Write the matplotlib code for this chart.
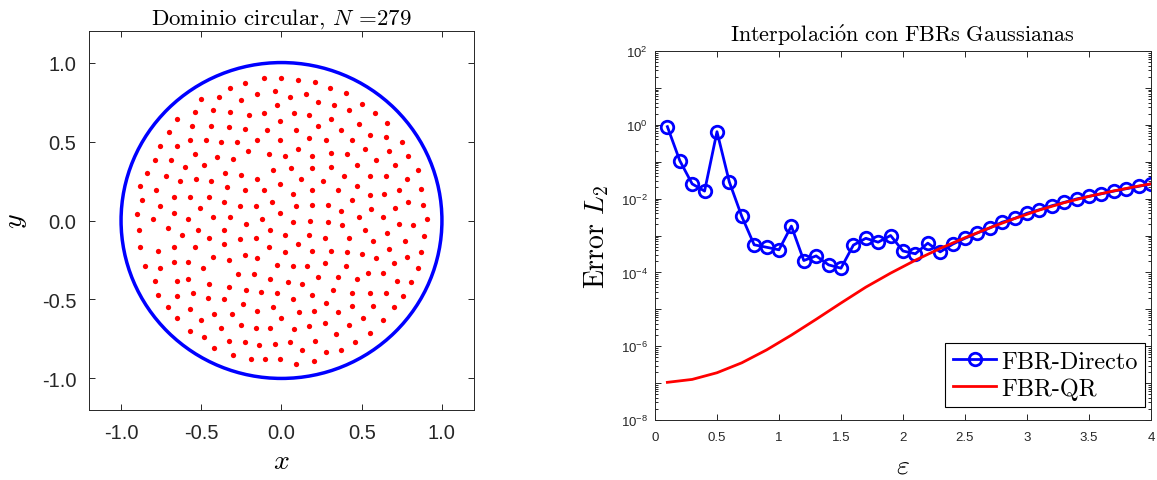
import math

import matplotlib
matplotlib.use("Agg")
import matplotlib.pyplot as plt
from matplotlib.patches import Circle
from matplotlib.ticker import FuncFormatter, LogLocator, NullFormatter

# nodes (x, y), row by row from top to bottom
node_x = [
    -0.11, 0.00, 0.10, 0.21,
    -0.23, 0.30, 0.40, -0.32, -0.04,
    -0.39, -0.50, -0.25, -0.15, 0.05, 0.15, 0.23, 0.33, 0.50, 0.42,
    -0.54, -0.43, -0.32, -0.20, -0.11, -0.03, 0.08, 0.17, 0.31, 0.58, 0.66, 0.48, 0.37,
    -0.65, -0.56, -0.44, -0.33, -0.23, -0.09, -0.01, 0.09, 0.23,
    -0.70, -0.76, -0.65, -0.57, -0.47, -0.38, -0.28, -0.15, -0.01, 0.10, 0.17, 0.28, 0.44, 0.55, 0.65, 0.75,
    -0.79, -0.69, -0.60, -0.54, -0.48, -0.40, -0.30, -0.21, -0.08, 0.02, 0.19, 0.31, 0.41, 0.52, 0.59, 0.67, 0.71, 0.79,
    -0.84, -0.72, -0.63, -0.53, -0.44, -0.35, -0.25, -0.15, -0.05, 0.06, 0.12, 0.19, 0.26, 0.31, 0.39, 0.47, 0.55, 0.65, 0.78, 0.85,
    -0.88, -0.78, -0.67, -0.57, -0.45, -0.34, -0.23, -0.11, -0.01, 0.07, 0.19, 0.35, 0.47, 0.55, 0.64, 0.73, 0.87,
    -0.87, -0.76, -0.67, -0.58, -0.51, -0.36, -0.26, -0.16, -0.06, -0.01, 0.09, 0.19, 0.29, 0.37, 0.44, 0.56, 0.71, 0.79, 0.88,
    -0.90, -0.80, -0.43, -0.32, -0.22, -0.12, 0.07, 0.18, 0.29, 0.48, 0.63, 0.73, 0.82, 0.91,
    -0.89, -0.71, -0.62, -0.52, -0.36, -0.26, -0.16, -0.07, 0.02, 0.17, 0.27, 0.38, 0.42, 0.52, 0.57, 0.66, 0.77, 0.89,
    -0.88, -0.77, -0.67, -0.54, -0.45, -0.36, -0.23, -0.15, -0.08, 0.02, 0.10, 0.19, 0.31, 0.41, 0.50, 0.59, 0.67, 0.78, 0.87,
    -0.85, -0.76, -0.67, -0.58, -0.49, -0.43, -0.33, -0.27, -0.17, -0.03, 0.07, 0.16, 0.27, 0.40, 0.54, 0.63, 0.70, 0.85,
    -0.79, -0.65, -0.58, -0.45, -0.33, -0.22, -0.07, 0.04, 0.13, 0.23, 0.35, 0.47, 0.72, 0.81,
    -0.77, -0.65, -0.55, -0.46, -0.36, -0.24, -0.13, -0.03, 0.07, 0.19, 0.32, 0.44, 0.55, 0.65, 0.76,
    -0.71, -0.57, -0.42, -0.31, -0.15, -0.05, 0.11, 0.20, 0.28, 0.35, 0.44, 0.57, 0.70,
    -0.65, -0.50, -0.38, -0.25, -0.16, -0.07, 0.00, 0.08, 0.17, 0.27, 0.42, 0.51, 0.63,
    -0.57, -0.48, -0.33, -0.23, -0.14, -0.04, 0.05, 0.13, 0.21, 0.34, 0.46, 0.55,
    -0.42, -0.30, -0.19, -0.10, -0.01, 0.09, 0.20, 0.28, 0.37,
]
node_y = [
    0.90, 0.90, 0.89, 0.88,
    0.87, 0.84, 0.81, 0.84, 0.82,
    0.78, 0.77, 0.76, 0.80, 0.78, 0.80, 0.75, 0.73, 0.74, 0.70,
    0.69, 0.70, 0.69, 0.67, 0.68, 0.73, 0.68, 0.67, 0.64, 0.68, 0.62, 0.61, 0.57,
    0.64, 0.60, 0.60, 0.59, 0.58, 0.57, 0.63, 0.57, 0.60,
    0.56, 0.47, 0.47, 0.51, 0.51, 0.50, 0.50, 0.51, 0.51, 0.45, 0.52, 0.51, 0.51, 0.54, 0.53, 0.50,
    0.38, 0.38, 0.34, 0.42, 0.35, 0.40, 0.39, 0.44, 0.42, 0.41, 0.41, 0.43, 0.42, 0.45, 0.38, 0.44, 0.35, 0.41,
    0.30, 0.28, 0.25, 0.26, 0.25, 0.30, 0.29, 0.26, 0.32, 0.33, 0.26, 0.33, 0.25, 0.34, 0.28, 0.35, 0.28, 0.28, 0.26, 0.32,
    0.22, 0.19, 0.15, 0.15, 0.15, 0.21, 0.19, 0.19, 0.23, 0.17, 0.19, 0.19, 0.22, 0.16, 0.17, 0.19, 0.20,
    0.13, 0.09, 0.05, 0.01, 0.08, 0.12, 0.09, 0.09, 0.12, 0.05, 0.09, 0.10, 0.10, 0.06, 0.13, 0.07, 0.08, 0.12, 0.10,
    0.04, 0.01, 0.02, 0.02, -0.02, 0.01, -0.01, 0.00, -0.01, 0.02, 0.02, -0.02, -0.03, 0.01,
    -0.06, -0.05, -0.09, -0.06, -0.06, -0.12, -0.11, -0.06, -0.09, -0.09, -0.11, -0.03, -0.11, -0.06, -0.13, -0.08, -0.13, -0.10,
    -0.17, -0.19, -0.17, -0.17, -0.11, -0.15, -0.22, -0.24, -0.17, -0.20, -0.15, -0.19, -0.19, -0.20, -0.21, -0.24, -0.18, -0.23, -0.20,
    -0.29, -0.30, -0.26, -0.26, -0.30, -0.23, -0.25, -0.34, -0.34, -0.28, -0.29, -0.29, -0.27, -0.29, -0.33, -0.33, -0.27, -0.30,
    -0.38, -0.38, -0.37, -0.40, -0.42, -0.44, -0.37, -0.39, -0.40, -0.36, -0.36, -0.37, -0.38, -0.39,
    -0.47, -0.48, -0.46, -0.49, -0.50, -0.53, -0.45, -0.46, -0.50, -0.47, -0.44, -0.46, -0.46, -0.46, -0.48,
    -0.55, -0.56, -0.59, -0.59, -0.57, -0.55, -0.58, -0.57, -0.52, -0.58, -0.54, -0.54, -0.55,
    -0.62, -0.63, -0.68, -0.66, -0.68, -0.68, -0.62, -0.69, -0.67, -0.65, -0.66, -0.62, -0.63,
    -0.70, -0.74, -0.76, -0.77, -0.79, -0.78, -0.77, -0.82, -0.76, -0.72, -0.77, -0.71,
    -0.81, -0.85, -0.88, -0.88, -0.88, -0.91, -0.89, -0.83, -0.82,
]

# right panel: L2 error versus shape parameter epsilon
eps_direct = [0.1, 0.2, 0.3, 0.4, 0.5, 0.6, 0.7, 0.8, 0.9, 1.0,
              1.1, 1.2, 1.3, 1.4, 1.5, 1.6, 1.7, 1.8, 1.9, 2.0,
              2.1, 2.2, 2.3, 2.4, 2.5, 2.6, 2.7, 2.8, 2.9, 3.0,
              3.1, 3.2, 3.3, 3.4, 3.5, 3.6, 3.7, 3.8, 3.9, 4.0]
err_direct = [0.89, 0.107, 0.025, 0.016, 0.65, 0.028, 3.3e-3, 5.6e-4, 4.8e-4, 4.1e-4,
              1.8e-3, 2.1e-4, 2.8e-4, 1.6e-4, 1.3e-4, 5.5e-4, 8.4e-4, 6.6e-4, 1.0e-3, 3.8e-4,
              3.2e-4, 6.2e-4, 3.6e-4, 5.8e-4, 8.4e-4, 1.17e-3, 1.6e-3, 2.3e-3, 2.9e-3, 4.0e-3,
              5.0e-3, 6.4e-3, 7.9e-3, 9.8e-3, 1.15e-2, 1.35e-2, 1.6e-2, 1.85e-2, 2.15e-2, 2.5e-2]
eps_qr = [0.1, 0.3, 0.5, 0.7, 0.9, 1.1, 1.3, 1.5, 1.7, 1.9,
          2.1, 2.3, 2.5, 2.7, 2.9, 3.1, 3.3, 3.5, 3.7, 3.9, 4.0]
err_qr = [1.05e-7, 1.26e-7, 1.91e-7, 3.55e-7, 7.94e-7, 2.0e-6, 5.37e-6, 1.48e-5, 3.98e-5, 9.55e-5,
          2.14e-4, 4.47e-4, 8.71e-4, 1.62e-3, 2.88e-3, 4.9e-3, 7.76e-3, 1.15e-2, 1.62e-2, 2.19e-2, 2.51e-2]

xy_ticks = [-1.0, -0.5, 0.0, 0.5, 1.0]
eps_ticks = [0, 0.5, 1, 1.5, 2, 2.5, 3, 3.5, 4]

plt.rcParams["mathtext.fontset"] = "cm"
plt.rcParams["font.family"] = ["Liberation Sans", "DejaVu Sans"]
plt.rcParams["axes.unicode_minus"] = False
GREY = "#262626"
BLUE = "#0000ff"

fig = plt.figure(figsize=(11.57, 4.81), dpi=100)

# --- left: circular domain with nodes
ax1 = fig.add_axes([0.0769, 0.1455, 0.3328, 0.788])
ax1.add_patch(Circle((0, 0), 1.0, fill=False, edgecolor=BLUE, lw=2.5, zorder=2))
ax1.plot(node_x, node_y, ls="none", marker="o", ms=3.8, color="red", mec="none", zorder=3)
ax1.set_xlim(-1.2, 1.2)
ax1.set_ylim(-1.2, 1.2)
ax1.set_xticks(xy_ticks)
ax1.set_yticks(xy_ticks)
fmt1 = FuncFormatter(lambda v, p: f"{v:.1f}")
ax1.xaxis.set_major_formatter(fmt1)
ax1.yaxis.set_major_formatter(fmt1)
ax1.tick_params(direction="in", top=True, right=True, length=4, width=0.7,
                labelsize=14.5, colors=GREY)
ax1.tick_params(axis="x", pad=9.5)
ax1.tick_params(axis="y", pad=9)
ax1.set_title("Dominio circular, $N$ =279", family="cmr10", fontsize=16.5, pad=5)
ax1.set_xlabel("$x$", fontsize=20, labelpad=4)
ax1.set_ylabel("$y$", fontsize=20, labelpad=9)

# --- right: interpolation error
ax2 = fig.add_axes([0.5661, 0.1247, 0.4287, 0.7672])
ax2.semilogy(eps_direct, err_direct, color=BLUE, lw=2, marker="o", ms=9,
             mfc="none", mew=2, label="FBR-Directo")
ax2.semilogy(eps_qr, err_qr, color="red", lw=2, label="FBR-QR")
ax2.set_xlim(0, 4)
ax2.set_ylim(1e-8, 1e2)
ax2.set_xticks(eps_ticks)
ax2.xaxis.set_major_formatter(FuncFormatter(lambda v, p: f"{v:g}"))
ax2.yaxis.set_major_locator(LogLocator(base=10, numticks=20))
ax2.yaxis.set_minor_locator(LogLocator(base=10, subs=[2, 3, 4, 5, 6, 7, 8, 9], numticks=20))
ax2.yaxis.set_minor_formatter(NullFormatter())


def log_label(v, p):
    e = int(round(math.log10(v)))
    if e % 2:
        return ""
    return r"$\mathregular{10^{%d}}$" % e


ax2.yaxis.set_major_formatter(FuncFormatter(log_label))
ax2.tick_params(which="both", direction="in", top=True, right=True, width=0.7,
                labelsize=9.5, colors=GREY)
ax2.tick_params(which="major", length=4)
ax2.tick_params(which="minor", length=2)
ax2.tick_params(axis="x", pad=8)
ax2.tick_params(axis="y", pad=5)
ax2.set_title(r"$\mathrm{Interpolaci\acute{o}n\ con\ FBRs\ Gaussianas}$", fontsize=16, pad=7)
ax2.set_xlabel(r"$\varepsilon$", fontsize=20, labelpad=7)
ax2.set_ylabel("Error $L_2$", family="cmr10", fontsize=20, labelpad=7)
leg = ax2.legend(loc="lower right", bbox_to_anchor=(0.988, 0.035), borderaxespad=0,
                 prop={"family": "cmr10", "size": 17.5}, fancybox=False, edgecolor="black",
                 framealpha=1, handlelength=1.8, borderpad=0.3, labelspacing=0.2,
                 handletextpad=0.2)
leg.get_frame().set_linewidth(0.8)

for ax in (ax1, ax2):
    for s in ax.spines.values():
        s.set_color(GREY)
        s.set_linewidth(0.7)

fig.savefig("out.png", dpi=100)
